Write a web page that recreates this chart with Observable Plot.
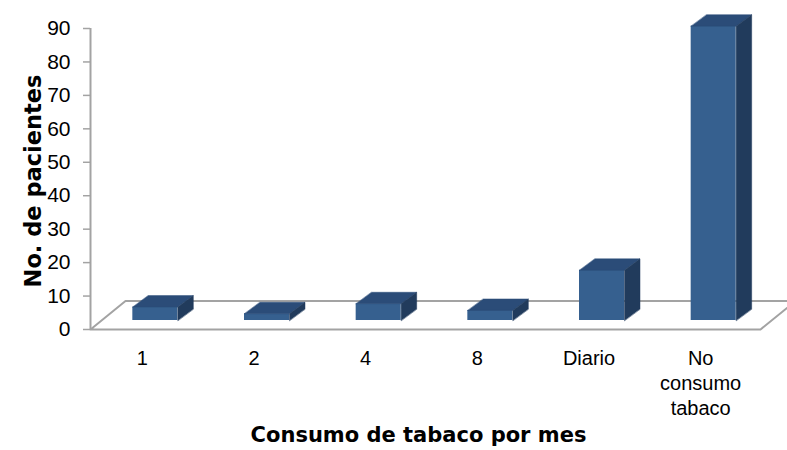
<!DOCTYPE html>
<html>
<head>
<meta charset="utf-8">
<script src="https://cdn.jsdelivr.net/npm/d3@7"></script>
<script src="https://cdn.jsdelivr.net/npm/@observablehq/plot@0.6"></script>
<style>
  html, body { margin: 0; padding: 0; background: #fff; }
  #chart svg { display: block; }
</style>
</head>
<body>
<div id="chart"></div>
<script>
// Patients by monthly tobacco use
const categories = ["1", "2", "4", "8", "Diario", "No consumo tabaco"];
const patients = [4, 2, 5, 3, 15, 88];
const yTicks = [0, 10, 20, 30, 40, 50, 60, 70, 80, 90];

const width = 787, height = 450;
const margin = {top: 28, right: 27, bottom: 121, left: 90};
const yMax = 90;

// pixel size of one unit on each scale, used to express the 3D depth in data units
const kx = (width - margin.left - margin.right) / categories.length;
const ky = (height - margin.top - margin.bottom) / yMax;

const halfW = 22.5 / kx;          // half width of a bar's front face
const depthX = 15.5 / kx, depthY = 11.5 / ky;   // bar depth (oblique projection)
const floorX = 35 / kx, floorY = 28.5 / ky;     // floor depth
const shift = {dx: 9, dy: -9};    // bars stand in the middle of the floor

const gray = "#a3a3a3";
const colFront = "#36608f", colTop = "#2b4c78", colSide = "#213b5c";

const bars = categories.map((c, i) => ({i, category: c, value: patients[i]}));

const floor = [
  {x: -0.5, y: 0}, {x: categories.length - 0.5, y: 0},
  {x: categories.length - 0.5 + floorX, y: floorY}, {x: -0.5 + floorX, y: floorY}
];

const tops = bars.flatMap(({i, value: v}) => [
  {i, x: i - halfW, y: v}, {i, x: i + halfW, y: v},
  {i, x: i + halfW + depthX, y: v + depthY}, {i, x: i - halfW + depthX, y: v + depthY}
]);

const sides = bars.flatMap(({i, value: v}) => [
  {i, x: i + halfW, y: 0}, {i, x: i + halfW, y: v},
  {i, x: i + halfW + depthX, y: v + depthY}, {i, x: i + halfW + depthX, y: depthY}
]);

const chart = Plot.plot({
  width, height,
  marginTop: margin.top, marginRight: margin.right,
  marginBottom: margin.bottom, marginLeft: margin.left,
  style: {fontFamily: "'Liberation Sans', Arial, sans-serif", background: "#fff", color: "#000"},
  x: {type: "linear", domain: [-0.5, categories.length - 0.5]},
  y: {domain: [0, yMax]},
  marks: [
    // floor
    Plot.line(floor, {x: "x", y: "y", curve: "linear-closed", fill: "#fff", stroke: gray, strokeWidth: 2}),
    // vertical axis line and ticks
    Plot.ruleX([-0.5], {y1: 0, y2: yMax, stroke: gray, strokeWidth: 2}),
    Plot.axisY(yTicks, {tickSize: 7, tickPadding: 13, fontSize: 21, stroke: gray, strokeWidth: 1.5, fill: "#000", label: null}),
    // bars: front, top and side faces
    Plot.rect(bars, {x1: d => d.i - halfW, x2: d => d.i + halfW, y1: 0, y2: "value", fill: colFront, ...shift}),
    Plot.line(tops, {x: "x", y: "y", z: "i", curve: "linear-closed", fill: colTop, stroke: colTop, strokeWidth: 0.5, ...shift}),
    Plot.line(sides, {x: "x", y: "y", z: "i", curve: "linear-closed", fill: colSide, stroke: colSide, strokeWidth: 0.5, ...shift}),
    // category labels
    Plot.axisX(d3.range(categories.length), {
      tickFormat: i => categories[i].replace(/ /g, "\n"),
      tickSize: 0, tickPadding: 18, fontSize: 20, lineHeight: 1.25, dx: -4, fill: "#000", label: null
    }),
    // axis titles
    Plot.text(["Consumo de tabaco por mes"], {
      frameAnchor: "bottom", lineAnchor: "middle", dx: -7, dy: 106,
      fontSize: 21, fontWeight: "bold", fontFamily: "'DejaVu Sans', sans-serif", fill: "#000"
    }),
    Plot.text(["No. de pacientes"], {
      frameAnchor: "left", textAnchor: "middle", lineAnchor: "middle", rotate: -90, dx: -57, dy: 2,
      fontSize: 22.5, fontWeight: "bold", fontFamily: "'DejaVu Sans', sans-serif", fill: "#000"
    })
  ]
});

document.getElementById("chart").appendChild(chart);
</script>
</body>
</html>
